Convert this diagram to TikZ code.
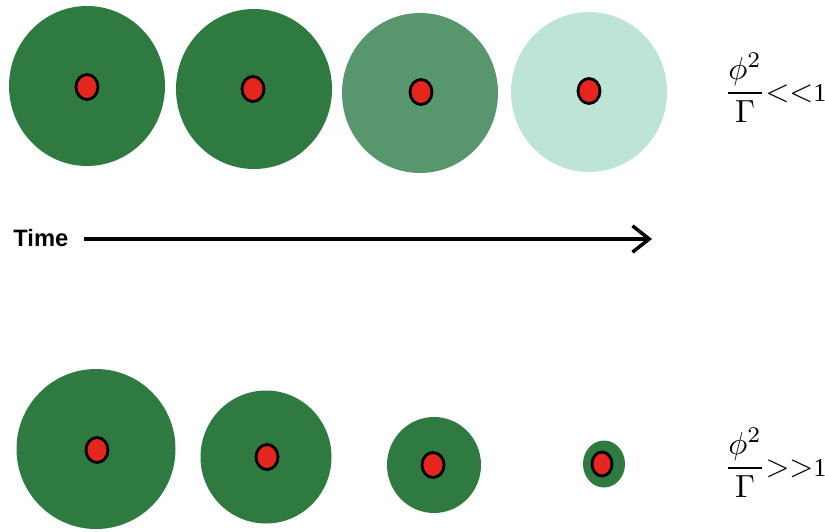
\documentclass[tikz,border=0pt]{standalone}
\usepackage{fontspec}
\setmainfont{Liberation Serif}
\newfontfamily\labelfont{Liberation Sans}
\usetikzlibrary{arrows.meta}
\definecolor{cloudgreen}{RGB}{46,122,64}
\definecolor{fadegreen}{RGB}{88,150,110}
\definecolor{palegreen}{RGB}{190,228,214}
\definecolor{coredot}{RGB}{228,38,30}
\tikzset{
  core/.style={draw=black,line width=1.6pt,fill=coredot},
  ratio/.style={anchor=base west,inner sep=0pt,scale=1.4},
  timearrow/.style={line width=2pt,-{Straight Barb[length=9.5pt,width=15pt,line width=2pt]}}
}
\newcommand{\ratiotext}[1]{\scalebox{1.3}{$\displaystyle\frac{\phi^2}{\Gamma}$}\scalebox{1.25}{$#1$}\scalebox{1.05}{1}}
\begin{document}
\begin{tikzpicture}[x=0.02cm,y=0.02cm]
  \useasboundingbox (0,0) rectangle (825,-531);
  \fill[cloudgreen] (87,-86) ellipse (78 and 80);
  \draw[core] (87,-87) ellipse (11 and 12.5);
  \fill[cloudgreen] (254,-89) ellipse (78 and 80);
  \draw[core] (253,-89) ellipse (11 and 12.5);
  \fill[fadegreen] (420,-93) ellipse (78 and 80);
  \draw[core] (421,-92) ellipse (11 and 12.5);
  \fill[palegreen] (589,-92) ellipse (78 and 80);
  \draw[core] (589,-91) ellipse (11 and 12.5);
  \node[ratio] (slowratio) at (724,-101) {\ratiotext{<<}};
  \node[anchor=base west,inner sep=0pt,font=\labelfont\bfseries\fontsize{13.5}{16}\selectfont] (timelabel) at (13,-246) {Time};
  \coordinate (timeend) at (652,-239);
  \draw[timearrow,shorten <=9pt] (timelabel.east |- timeend) -- (timeend);
  \fill[cloudgreen] (96,-449) ellipse (79.5 and 80);
  \draw[core] (97,-450) ellipse (11 and 12.5);
  \fill[cloudgreen] (266,-457) ellipse (65.5 and 66.5);
  \draw[core] (267,-457) ellipse (11 and 12.5);
  \fill[cloudgreen] (434,-465) ellipse (47 and 48);
  \draw[core] (433,-465) ellipse (11 and 12.5);
  \fill[cloudgreen] (604,-464) ellipse (21 and 23.5);
  \draw[core] (602,-464) ellipse (10 and 12);
  \node[ratio] (fastratio) at (724,-476) {\ratiotext{>>}};
\end{tikzpicture}
\end{document}
